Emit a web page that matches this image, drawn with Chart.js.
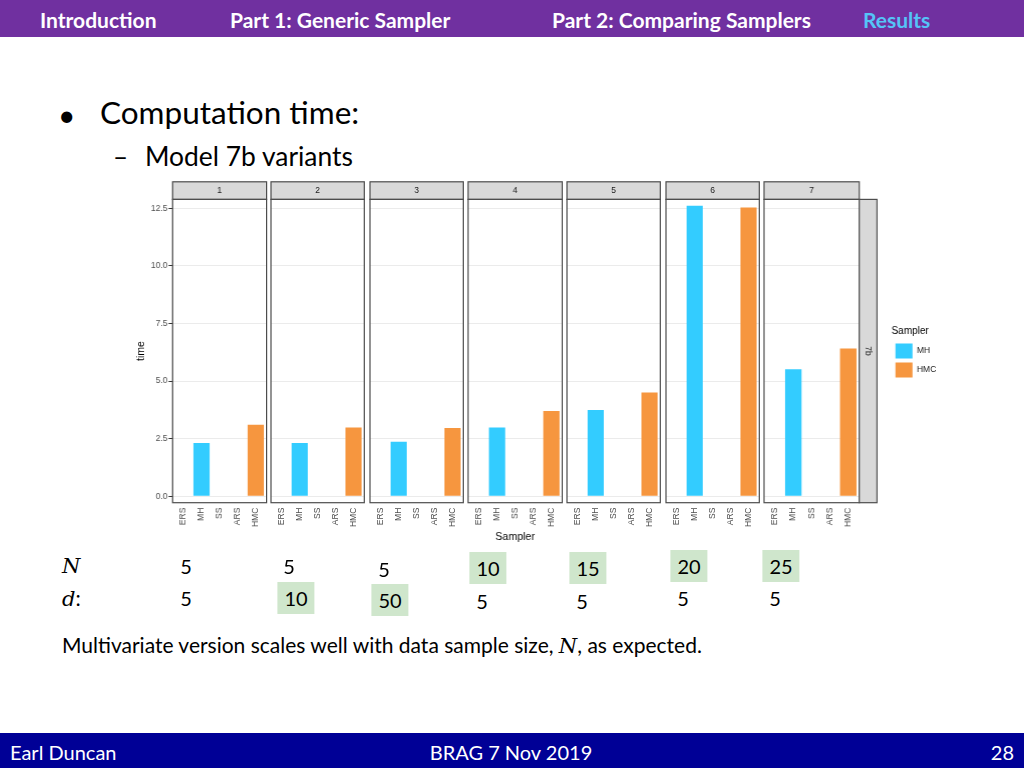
<!DOCTYPE html>
<html>
<head>
<meta charset="utf-8">
<script src="https://cdn.jsdelivr.net/npm/chart.js@4.4.1/dist/chart.umd.min.js"></script>
<style>
  html, body { margin:0; padding:0; width:1024px; height:768px; overflow:hidden; background:#ffffff; }
  body { font-family: Lato, "Open Sans", "Liberation Sans", sans-serif; position:relative; }
  .abs { position:absolute; white-space:nowrap; }
  .mid { transform: translateY(-50%); }
  .ctr { transform: translate(-50%, -50%); }
  #topbar { left:0; top:0; width:1024px; height:37px; background:#7030A0; }
  .nav { font-weight:bold; font-size:21px; color:#ffffff; }
  #botbar { left:0; top:733px; width:1024px; height:35px; background:#000096; }
  .foot { font-size:20px; color:#ffffff; }
  .math { font-family: "DejaVu Serif", "Liberation Serif", serif; font-style:italic; }
  .num { font-size:20px; color:#000; }
  .hl { background:#cfe6cc; }
  .facet { position:absolute; }
</style>
</head>
<body>
<div id="topbar" class="abs"></div>
<div class="abs nav mid" style="left:40px; top:19px;">Introduction</div>
<div class="abs nav mid" style="left:230px; top:19px;">Part 1: Generic Sampler</div>
<div class="abs nav mid" style="left:552px; top:19px;">Part 2: Comparing Samplers</div>
<div class="abs nav mid" style="left:863px; top:19px; color:#55C3F7;">Results</div>

<div class="abs mid" style="left:58px; top:114px; font-size:30px;">•</div>
<div class="abs mid" style="left:100px; top:112px; font-size:31.5px;">Computation time:</div>
<div class="abs mid" style="left:113px; top:156px; font-size:26px;">–</div>
<div class="abs mid" style="left:145px; top:156px; font-size:26.4px;">Model 7b variants</div>

<div id="plots"></div>

<div class="abs mid math" style="left:62px; top:566px; font-size:21px;">N</div>
<div class="abs mid" style="left:62px; top:598px; font-size:21px;"><span class="math">d</span>:</div>
<div id="nd"></div>

<div class="abs mid" style="left:62px; top:645px; font-size:21px;">Multivariate version scales well with data sample size, <span class="math">N</span>, as expected.</div>

<div id="botbar" class="abs"></div>
<div class="abs foot mid" style="left:10px; top:752px;">Earl Duncan</div>
<div class="abs foot ctr" style="left:511px; top:752px;">BRAG 7 Nov 2019</div>
<div class="abs foot mid" style="right:10px; top:752px;">28</div>

<script>
// ---------------- data ----------------
const facetLabels = ['1', '2', '3', '4', '5', '6', '7'];
const samplers = ['ERS', 'MH', 'SS', 'ARS', 'HMC'];
const mhTime  = [2.31, 2.31, 2.37, 2.99, 3.75, 12.61, 5.51];
const hmcTime = [3.11, 2.99, 2.96, 3.70, 4.50, 12.54, 6.42];
const yTicks = [0, 2.5, 5, 7.5, 10, 12.5];
const rowStripLabel = '7b';
const nValues = ['5', '5', '5', '10', '15', '20', '25'];
const dValues = ['5', '10', '50', '5', '5', '5', '5'];
const nHighlight = [false, false, false, true, true, true, true];
const dHighlight = [false, true, true, false, false, false, false];

// ---------------- layout ----------------
const PANEL_L0 = 172.3, PANEL_STEP = 98.67, PANEL_W = 93.3;
const AREA_TOP = 199.4, AREA_H = 303.3, STRIP_H = 17.6;
const CAN_TOP = 176, PAD_TOP = AREA_TOP - CAN_TOP;
const XAXIS_H = 40.3, PAD_B = 3;
const CAN_H = PAD_TOP + AREA_H + XAXIS_H + PAD_B;
const PADX = 8, YAXIS_W = 37.3;
const RSTRIP_W = 17.7, RSTRIP_BOX = 32, LEGEND_W = 56;
const Y_MIN = -0.28, Y_MAX = 12.89;
const X_MIN = 0.4, X_MAX = 5.6;

const COL_MH = '#33CCFF', COL_HMC = '#F6963F';
const FONT = '"Liberation Sans", Arial, sans-serif';

const nCols = [186, 289, 384, 488, 588, 689, 781];
const nRowsY = [566, 566, 569, 568, 568, 566, 566];
const dCols = [186, 296, 390, 482, 582, 683, 775];
const dRowsY = [598, 598, 600, 601, 601, 598, 598];

// N / d rows
const nd = document.getElementById('nd');
function addNum(txt, cx, cy, hl) {
  const el = document.createElement('div');
  el.className = 'abs ctr num' + (hl ? ' hl' : '');
  el.style.left = cx + 'px';
  el.style.top = cy + 'px';
  el.style.padding = hl ? '4px 7px' : '0';
  el.textContent = txt;
  nd.appendChild(el);
}
nValues.forEach((v, i) => addNum(v, nCols[i], nRowsY[i], nHighlight[i]));
dValues.forEach((v, i) => addNum(v, dCols[i], dRowsY[i], dHighlight[i]));

// ---------------- facet plugin ----------------
const facetPlugin = {
  id: 'facetDecor',
  afterDraw(chart, args, opts) {
    const { ctx, chartArea: a } = chart;
    ctx.save();
    ctx.lineWidth = 1.2;
    ctx.strokeStyle = '#4d4d4d';
    // top strip
    ctx.fillStyle = '#d9d9d9';
    ctx.fillRect(a.left, a.top - STRIP_H, a.width, STRIP_H);
    ctx.strokeRect(a.left, a.top - STRIP_H, a.width, STRIP_H);
    ctx.fillStyle = '#1a1a1a';
    ctx.font = '8.5px ' + FONT;
    ctx.textAlign = 'center';
    ctx.textBaseline = 'middle';
    ctx.fillText(opts.label, (a.left + a.right) / 2, a.top - STRIP_H / 2 + 0.5);
    // panel border
    ctx.strokeRect(a.left, a.top, a.width, a.height);
    // right row strip
    if (opts.rowLabel) {
      ctx.fillStyle = '#d9d9d9';
      ctx.fillRect(a.right, a.top, RSTRIP_W, a.height);
      ctx.strokeRect(a.right, a.top, RSTRIP_W, a.height);
      ctx.fillStyle = '#1a1a1a';
      ctx.translate(a.right + RSTRIP_W / 2, (a.top + a.bottom) / 2);
      ctx.rotate(Math.PI / 2);
      ctx.fillText(opts.rowLabel, 0, 0);
    }
    ctx.restore();
  }
};

// ---------------- charts ----------------
const plots = document.getElementById('plots');
facetLabels.forEach((lab, i) => {
  const first = i === 0, last = i === facetLabels.length - 1;
  const yW = first ? YAXIS_W : 0;
  const extraR = last ? RSTRIP_BOX + LEGEND_W : 0;
  const panelLeft = PANEL_L0 + i * PANEL_STEP;
  const div = document.createElement('div');
  div.className = 'facet';
  div.style.left = (panelLeft - PADX - yW) + 'px';
  div.style.top = CAN_TOP + 'px';
  div.style.width = (PADX + yW + PANEL_W + extraR + PADX) + 'px';
  div.style.height = CAN_H + 'px';
  const cv = document.createElement('canvas');
  div.appendChild(cv);
  plots.appendChild(div);

  const scales = {
    x: {
      type: 'linear',
      offset: false,
      min: X_MIN, max: X_MAX,
      afterBuildTicks: s => { s.ticks = samplers.map((_, k) => ({ value: k + 1 })); },
      afterFit: s => { s.height = XAXIS_H; },
      grid: { display: false, drawTicks: false },
      border: { display: false },
      ticks: {
        autoSkip: false, minRotation: 90, maxRotation: 90, padding: 5,
        color: '#4d4d4d', font: { family: FONT, size: 8.5 },
        callback: v => samplers[Math.round(v) - 1]
      },
      title: {
        display: i === 3, text: 'Sampler', color: '#000000',
        font: { family: FONT, size: 10.5 }, padding: 0
      }
    },
    y: {
      type: 'linear',
      min: Y_MIN, max: Y_MAX,
      afterBuildTicks: s => { s.ticks = yTicks.map(v => ({ value: v })); },
      afterFit: s => { s.width = yW; },
      border: { display: false },
      grid: { color: '#ebebeb', lineWidth: 1, drawTicks: first, tickLength: 4, tickColor: '#333333' },
      ticks: {
        display: first, padding: 1, color: '#4d4d4d',
        font: { family: FONT, size: 8.5 },
        callback: v => Number(v).toFixed(1)
      },
      title: {
        display: first, text: 'time', color: '#000000',
        font: { family: FONT, size: 10.5 }, padding: 0
      }
    }
  };
  if (last) {
    scales.yRow = {
      type: 'linear', position: 'right', display: true,
      min: Y_MIN, max: Y_MAX,
      afterFit: s => { s.width = RSTRIP_BOX; },
      grid: { display: false, drawTicks: false },
      border: { display: false },
      ticks: { display: false }
    };
  }

  new Chart(cv, {
    type: 'bar',
    data: {
      datasets: [
        {
          label: 'MH',
          data: samplers.map((s, k) => ({ x: k + 1, y: s === 'MH' ? mhTime[i] : null })),
          backgroundColor: COL_MH, borderWidth: 0,
          grouped: false, barPercentage: 0.9, categoryPercentage: 1
        },
        {
          label: 'HMC',
          data: samplers.map((s, k) => ({ x: k + 1, y: s === 'HMC' ? hmcTime[i] : null })),
          backgroundColor: COL_HMC, borderWidth: 0,
          grouped: false, barPercentage: 0.9, categoryPercentage: 1
        }
      ]
    },
    options: {
      responsive: true,
      maintainAspectRatio: false,
      animation: false,
      layout: { padding: { left: PADX, right: PADX, top: PAD_TOP, bottom: PAD_B } },
      scales,
      plugins: {
        tooltip: { enabled: false },
        facetDecor: { label: lab, rowLabel: last ? rowStripLabel : null },
        legend: {
          display: last,
          position: 'right',
          align: 'center',
          fullSize: false,
          maxWidth: LEGEND_W,
          title: {
            display: true, text: 'Sampler', color: '#000000',
            font: { family: FONT, size: 10 }, padding: { top: 6, bottom: 1 }, position: 'start'
          },
          labels: {
            boxWidth: 17, boxHeight: 15, padding: 4, color: '#1a1a1a',
            font: { family: FONT, size: 8.5 }
          }
        }
      }
    },
    plugins: [facetPlugin]
  });
});
</script>
</body>
</html>
